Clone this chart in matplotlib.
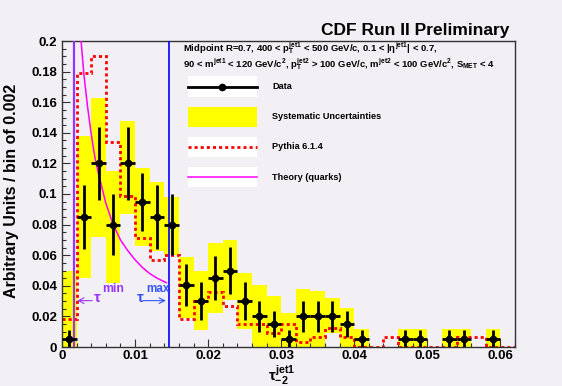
import numpy as np
import matplotlib
matplotlib.use('Agg')
import matplotlib.pyplot as plt
from matplotlib.ticker import MultipleLocator, FuncFormatter

plt.rcParams['font.family'] = ['Liberation Sans', 'DejaVu Sans']
plt.rcParams['font.weight'] = 'bold'
plt.rcParams['mathtext.fontset'] = 'custom'
plt.rcParams['mathtext.rm'] = 'Liberation Sans:bold'
plt.rcParams['mathtext.it'] = 'Liberation Sans:bold'
plt.rcParams['mathtext.bf'] = 'Liberation Sans:bold'
plt.rcParams['mathtext.sf'] = 'Liberation Sans:bold'

BG = '#f2f0f4'

# data points (bin centres, bin width 0.002)
data_x = [0.001, 0.003, 0.005, 0.007, 0.009, 0.011, 0.013, 0.015, 0.017, 0.019,
          0.021, 0.023, 0.025, 0.027, 0.029, 0.031, 0.033, 0.035, 0.037, 0.039,
          0.041, 0.047, 0.049, 0.053, 0.055, 0.059]
data_y = [0.0055, 0.085, 0.120, 0.080, 0.120, 0.095, 0.085, 0.080, 0.0405, 0.030,
          0.045, 0.050, 0.030, 0.020, 0.015, 0.0055, 0.020, 0.020, 0.020, 0.015,
          0.0055, 0.0055, 0.0055, 0.0055, 0.0055, 0.0055]
data_err = [0.0055, 0.021, 0.024, 0.020, 0.024, 0.019, 0.021, 0.020, 0.014, 0.0125,
            0.0145, 0.0155, 0.0125, 0.010, 0.0087, 0.0055, 0.010, 0.010, 0.010, 0.0087,
            0.0055, 0.0055, 0.0055, 0.0055, 0.0055, 0.0055]
# systematic uncertainty band per bin
syst_lo = [0.0, 0.045, 0.072, 0.042, 0.087, 0.066, 0.063, 0.060, 0.019, 0.011,
           0.022, 0.031, 0.012, 0.0, 0.0, 0.0, 0.0, 0.0, 0.009, 0.0,
           0.0, 0.0, 0.0, 0.0, 0.0, 0.0]
syst_hi = [0.050, 0.138, 0.163, 0.115, 0.148, 0.117, 0.108, 0.098, 0.059, 0.050,
           0.068, 0.070, 0.0486, 0.0405, 0.0333, 0.022, 0.038, 0.0368, 0.032, 0.0253,
           0.0118, 0.0118, 0.0118, 0.0118, 0.0118, 0.0118]

# Pythia 6.1.4 histogram, 31 bins from 0 to 0.062
pythia = [0.018, 0.179, 0.190, 0.134, 0.0985, 0.0715, 0.057, 0.060, 0.018, 0.030,
          0.036, 0.027, 0.015, 0.015, 0.009, 0.015, 0.003, 0.0065, 0.0125, 0.0065,
          0.0, 0.0, 0.0063, 0.0, 0.0, 0.0, 0.0, 0.0063, 0.0063, 0.0, 0.0]
edges = np.linspace(0, 0.062, 32)

# theory curve (quarks)
theory_x = [0.0024, 0.0030, 0.0035, 0.0040, 0.0045, 0.0050, 0.0060, 0.0070,
            0.0080, 0.0090, 0.0100, 0.0110, 0.0120, 0.0130, 0.0143]
theory_y = [0.212, 0.178, 0.157, 0.139, 0.124, 0.113, 0.094, 0.080,
            0.070, 0.063, 0.057, 0.052, 0.048, 0.045, 0.042]

tau_min = 0.0017
tau_max = 0.0146

fig = plt.figure(figsize=(5.62, 3.86), dpi=100, facecolor=BG)
ax = fig.add_axes([62/562, 1 - 347/386, 453/562, 306/386])
ax.set_facecolor(BG)

# yellow systematic boxes
ax.bar(data_x, np.array(syst_hi) - np.array(syst_lo), bottom=syst_lo, width=0.002,
       color='#ffff00', edgecolor='none', zorder=1)

# pythia
ax.stairs(pythia, edges, baseline=None, color='#ff0000', lw=2.0,
          linestyle=(0, (1.1, 1.1)), zorder=2)

# theory
ax.plot(theory_x, theory_y, color='#ff00ff', lw=1.1, zorder=3)

# tau lines
ax.axvline(tau_min, color='#9933ff', lw=1.6, zorder=3)
ax.axvline(tau_max, color='#0000ff', lw=1.2, zorder=3)

# data
ax.errorbar(data_x, data_y, xerr=0.001, yerr=data_err, fmt='o', color='black',
            ms=4.5, elinewidth=2.0, capsize=0, zorder=4)

# tau annotations
ax.annotate('', xy=(tau_min, 0.0303), xytext=(0.0045, 0.0303),
            arrowprops=dict(arrowstyle='->', color='#9933ff', lw=0.8), zorder=5)
ax.annotate('', xy=(tau_max, 0.0303), xytext=(0.0107, 0.0303),
            arrowprops=dict(arrowstyle='->', color='#3355ff', lw=0.8), zorder=5)
ax.text(0.0044, 0.0318, '\u03c4', color='#9933ff', fontsize=11, ha='left', va='center')
ax.text(0.00545, 0.0380, 'min', color='#9933ff', fontsize=8.7, ha='left', va='center')
ax.text(0.0103, 0.0318, '\u03c4', color='#3355ff', fontsize=11, ha='left', va='center')
ax.text(0.01155, 0.0380, 'max', color='#3355ff', fontsize=8.4, ha='left', va='center')

ax.set_xlim(0, 0.062)
ax.set_ylim(0, 0.2)
ax.xaxis.set_major_locator(MultipleLocator(0.01))
ax.xaxis.set_minor_locator(MultipleLocator(0.002))
ax.yaxis.set_major_locator(MultipleLocator(0.02))
ax.yaxis.set_minor_locator(MultipleLocator(0.005))
fmt = FuncFormatter(lambda v, p: '%g' % round(v, 4))
ax.xaxis.set_major_formatter(fmt)
ax.yaxis.set_major_formatter(fmt)
ax.tick_params(which='both', direction='in', top=False, right=False, width=0.8,
               color='#333333', labelsize=9.5)
ax.tick_params(which='major', length=6)
ax.tick_params(which='minor', length=3)
ax.tick_params(axis='x', pad=2)
ax.tick_params(axis='y', pad=3.5)
for s in ax.spines.values():
    s.set_color('#333333')
    s.set_linewidth(1.0)

ax.set_ylabel('Arbitrary Units / bin of 0.002', fontsize=11.5, fontweight='bold')
ax.yaxis.set_label_coords(-0.094, 0.51)
ax.set_xlabel(r'$\tau_{-2}^{jet1}$', fontsize=11)
ax.xaxis.set_label_coords(0.485, -0.055)

fig.text(509/562, 1 - 35/386, 'CDF Run II Preliminary', fontsize=12.5,
         fontweight='bold', ha='right', va='baseline')

# header text
ax.text(0.267, 0.965, r'Midpoint R=0.7, 400 < $p_T^{jet1}$ < 500 GeV/c, 0.1 < |$\eta^{jet1}$| < 0.7,',
        transform=ax.transAxes, fontsize=6.8, ha='left', va='baseline')
ax.text(0.267, 0.913, r'90 < $m^{jet1}$ < 120 GeV/c$^2$, $p_T^{jet2}$ > 100 GeV/c, $m^{jet2}$ < 100 GeV/c$^2$, $S_{MET}$ < 4',
        transform=ax.transAxes, fontsize=6.8, ha='left', va='baseline')

# legend drawn by hand
lx0, lx1, tx = 0.278, 0.430, 0.4636
rows = [0.851, 0.752, 0.654, 0.555]
tr = ax.transAxes
for yc in (rows[0], rows[2], rows[3]):
    ax.add_patch(plt.Rectangle((lx0, yc - 0.033), lx1 - lx0, 0.066, transform=tr,
                               facecolor='white', edgecolor='none', zorder=6))
ax.plot([lx0, lx1], [rows[0]] * 2, color='black', lw=2.0, transform=tr, zorder=7)
ax.plot([(lx0 + lx1) / 2], [rows[0]], 'o', color='black', ms=4.5, transform=tr, zorder=7)
ax.add_patch(plt.Rectangle((lx0, 0.718), lx1 - lx0, 0.067, transform=tr,
                           facecolor='#ffff00', edgecolor='none', zorder=6))
ax.plot([lx0, lx1], [rows[2]] * 2, color='#ff0000', lw=2.0, linestyle=(0, (1.1, 1.1)),
        transform=tr, zorder=7)
ax.plot([lx0, lx1], [rows[3]] * 2, color='#ff00ff', lw=1.1, transform=tr, zorder=7)
labels = ['Data', 'Systematic Uncertainties', 'Pythia 6.1.4', 'Theory (quarks)']
for yc, lab in zip(rows, labels):
    ax.text(tx, yc, lab, transform=tr, fontsize=6.6, ha='left', va='center', zorder=7)

fig.savefig('out.png', dpi=100, facecolor=BG)
